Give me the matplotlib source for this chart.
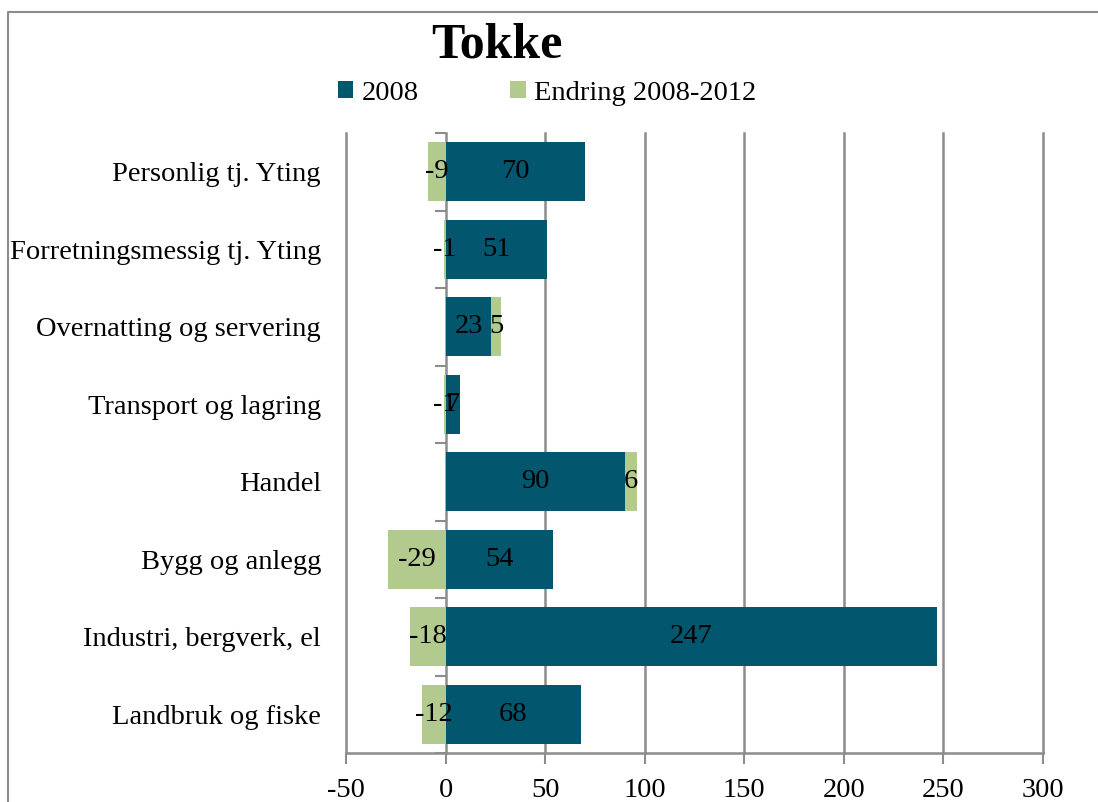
import numpy as np
import matplotlib.pyplot as plt
from matplotlib.lines import Line2D

plt.rcParams['font.family'] = ['Liberation Serif', 'DejaVu Serif']

# data, top to bottom as in the chart
categories = ['Personlig tj. Yting', 'Forretningsmessig tj. Yting', 'Overnatting og servering',
              'Transport og lagring', 'Handel', 'Bygg og anlegg',
              'Industri, bergverk, el', 'Landbruk og fiske']
val_2008 = [70, 51, 23, 7, 90, 54, 247, 68]
endring = [-9, -1, 5, -1, 6, -29, -18, -12]
x_ticks = [-50, 0, 50, 100, 150, 200, 250, 300]

c_dark = '#02566E'
c_green = '#B3CA8E'
c_grid = '#8C8C8C'
fs = 20.5

fig = plt.figure(figsize=(10.98, 8.02), dpi=100)
ax = fig.add_axes([346 / 1098, 1 - 753 / 802, (1043 - 346) / 1098, (753 - 133) / 802])

y = np.arange(len(categories))
base = np.array(val_2008)
end = np.array(endring)
# positive changes stack after the 2008 bar, negative ones go left of zero
left_end = np.where(end > 0, base, 0)

h = 0.76
b1 = ax.barh(y, base, height=h, color=c_dark, zorder=3, label='2008')
b2 = ax.barh(y, end, left=left_end, height=h, color=c_green, zorder=3, label='Endring 2008-2012')

for rect, v in zip(b1, val_2008):
    ax.text(rect.get_x() + rect.get_width() / 2, rect.get_y() + rect.get_height() / 2, str(v),
            ha='center', va='center', fontsize=fs, zorder=5)
for rect, v in zip(b2, endring):
    ax.text(rect.get_x() + rect.get_width() / 2, rect.get_y() + rect.get_height() / 2, str(v),
            ha='center', va='center', fontsize=fs, zorder=5)

ax.set_xlim(x_ticks[0], x_ticks[-1])
ax.set_ylim(len(categories) - 0.5, -0.5)
ax.set_xticks(x_ticks)
ax.set_xticklabels([str(t) for t in x_ticks], fontsize=fs)
ax.tick_params(axis='x', direction='out', length=8, width=1.5, color=c_grid, pad=10)

ax.set_yticks(y)
ax.set_yticklabels(categories, fontsize=fs)
ax.tick_params(axis='y', length=0, pad=18)

for xv in x_ticks:
    if xv != 0:
        ax.axvline(xv, color=c_grid, lw=1.8, zorder=1, clip_on=False)

for s in ['top', 'right', 'left']:
    ax.spines[s].set_visible(False)
ax.spines['bottom'].set_color(c_grid)
ax.spines['bottom'].set_linewidth(1.8)

# vertical axis at zero with tick marks between categories
sec = ax.secondary_yaxis(0, transform=ax.transData)
sec.set_yticks(np.arange(len(categories) + 1) - 0.5)
sec.set_yticklabels([])
sec.tick_params(direction='out', length=8, width=1.5, color=c_grid)
sec.spines['left'].set_color(c_grid)
sec.spines['left'].set_linewidth(1.8)

fig.text(497 / 1098, 1 - 45 / 802, 'Tokke', ha='center', va='center', fontsize=36, fontweight='bold')

ax.legend(loc='center', bbox_to_anchor=(547 / 1098, 1 - 93 / 802), bbox_transform=fig.transFigure,
          ncol=2, frameon=False, fontsize=fs, handlelength=0.55, handleheight=0.55,
          handletextpad=0.3, columnspacing=3.2)

# outer chart border (top and left edges visible)
fig.add_artist(Line2D([8 / 1098, 8 / 1098, 1.0], [0.0, 1 - 12 / 802, 1 - 12 / 802],
                      transform=fig.transFigure, color=c_grid, lw=1.5))

fig.savefig('out.png', dpi=100)
